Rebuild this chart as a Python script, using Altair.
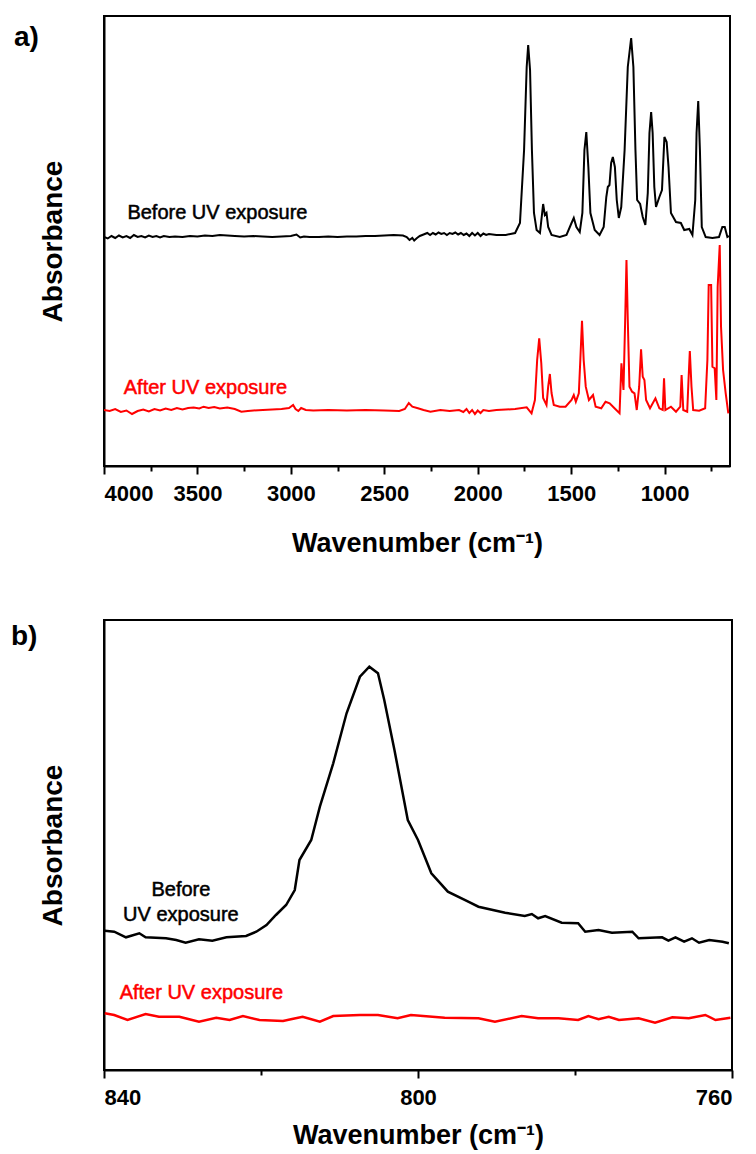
import altair as alt
import pandas as pd

FONT = "Liberation Sans"
BLACK = "#000000"
RED = "#ff0000"

# ---------------- Panel a: full spectrum ----------------
a_before_wn = [4000, 3980, 3960, 3940, 3920, 3900, 3880, 3860, 3840, 3820, 3800, 3780, 3760, 3740,
               3720, 3700, 3680, 3650, 3620, 3580, 3540, 3500, 3460, 3420, 3380, 3340, 3300, 3250,
               3200, 3150, 3100, 3050, 3000, 2970, 2950, 2930, 2900, 2850, 2800, 2750, 2700, 2650,
               2600, 2550, 2500, 2450, 2400, 2380, 2365, 2350, 2340, 2325, 2310, 2290, 2270, 2255,
               2240, 2225, 2210, 2195, 2180, 2165, 2150, 2135, 2120, 2105, 2090, 2075, 2060, 2045,
               2030, 2015, 2000, 1985, 1970, 1955, 1940, 1900, 1850, 1800, 1774, 1752, 1738, 1730,
               1720, 1710, 1699, 1685, 1667, 1650, 1641, 1632, 1623, 1605, 1561, 1525, 1498, 1486,
               1472, 1454, 1440, 1429, 1419, 1408, 1397, 1374, 1348, 1326, 1312, 1304, 1295, 1286,
               1277, 1266, 1256, 1245, 1232, 1214, 1197, 1179, 1167, 1156, 1147, 1131, 1117, 1103,
               1090, 1081, 1072, 1064, 1055, 1046, 1028, 1014, 1001, 989, 979, 966, 939, 913, 895,
               868, 851, 836, 829, 820, 811, 801, 780, 744, 709, 691, 678, 664, 655]
a_before_abs = [2.29, 2.275, 2.30, 2.28, 2.305, 2.285, 2.30, 2.28, 2.31, 2.29, 2.30, 2.285, 2.305, 2.29,
                2.30, 2.285, 2.30, 2.29, 2.295, 2.29, 2.30, 2.295, 2.305, 2.30, 2.31, 2.305, 2.30, 2.295,
                2.30, 2.295, 2.29, 2.295, 2.30, 2.315, 2.285, 2.295, 2.29, 2.29, 2.295, 2.29, 2.295, 2.295,
                2.30, 2.30, 2.305, 2.31, 2.305, 2.29, 2.26, 2.28, 2.255, 2.28, 2.30, 2.315, 2.33, 2.31,
                2.33, 2.315, 2.335, 2.32, 2.33, 2.31, 2.33, 2.32, 2.335, 2.315, 2.33, 2.31, 2.325, 2.30,
                2.33, 2.305, 2.33, 2.30, 2.325, 2.31, 2.32, 2.31, 2.31, 2.33, 2.43, 3.16, 3.99, 4.21,
                3.96, 3.16, 2.53, 2.36, 2.33, 2.62, 2.51, 2.53, 2.39, 2.31, 2.29, 2.31, 2.43, 2.48,
                2.39, 2.34, 2.53, 3.16, 3.34, 2.99, 2.53, 2.36, 2.31, 2.39, 2.69, 2.79, 2.81, 3.03,
                3.09, 2.99, 2.66, 2.48, 2.59, 3.16, 3.99, 4.28, 3.99, 3.16, 2.66, 2.62, 2.49, 2.41,
                2.73, 3.33, 3.54, 3.33, 2.79, 2.59, 2.69, 2.76, 3.29, 3.24, 2.99, 2.53, 2.44, 2.43, 2.36,
                2.37, 2.31, 2.66, 3.33, 3.65, 3.16, 2.39, 2.29, 2.28, 2.29, 2.39, 2.39, 2.29, 2.30]

a_after_wn = [4000, 3970, 3940, 3910, 3880, 3850, 3820, 3790, 3760, 3730, 3700, 3670, 3640, 3610,
              3580, 3550, 3520, 3490, 3467, 3440, 3410, 3380, 3340, 3300, 3265, 3230, 3200, 3150,
              3100, 3050, 3010, 2988, 2975, 2960, 2945, 2920, 2880, 2800, 2700, 2600, 2500, 2420,
              2390, 2369, 2350, 2320, 2290, 2253, 2200, 2150, 2100, 2077, 2060, 2045, 2030, 2015,
              2000, 1985, 1970, 1940, 1900, 1850, 1800, 1738, 1712, 1694, 1682, 1671, 1660, 1650,
              1632, 1623, 1614, 1605, 1593, 1561, 1530, 1498, 1486, 1475, 1459, 1451, 1442, 1433,
              1422, 1405, 1383, 1369, 1339, 1316, 1294, 1268, 1241, 1231, 1220, 1211, 1204, 1197,
              1188, 1174, 1161, 1149, 1136, 1126, 1117, 1108, 1099, 1078, 1049, 1028, 1010, 1003,
              996, 966, 939, 916, 909, 900, 879, 872, 865, 856, 847, 815, 783, 771, 764, 751, 744,
              732, 723, 716, 705, 698, 687, 673, 659]
a_after_abs = [0.56, 0.55, 0.57, 0.54, 0.555, 0.52, 0.55, 0.565, 0.545, 0.57, 0.555, 0.575, 0.56, 0.58,
               0.565, 0.58, 0.585, 0.575, 0.593, 0.58, 0.59, 0.575, 0.585, 0.57, 0.543, 0.55, 0.555, 0.56,
               0.565, 0.57, 0.58, 0.61, 0.57, 0.55, 0.58, 0.56, 0.555, 0.56, 0.555, 0.56, 0.555, 0.55,
               0.57, 0.63, 0.593, 0.577, 0.56, 0.543, 0.56, 0.55, 0.56, 0.54, 0.57, 0.53, 0.56, 0.52,
               0.555, 0.53, 0.56, 0.55, 0.56, 0.565, 0.57, 0.587, 0.527, 0.66, 1.06, 1.277, 1.03, 0.68,
               0.61, 0.793, 0.92, 0.73, 0.61, 0.593, 0.593, 0.66, 0.71, 0.643, 0.727, 1.06, 1.453, 1.06,
               0.793, 0.66, 0.71, 0.593, 0.577, 0.643, 0.627, 0.577, 0.527, 1.027, 0.76, 1.46, 2.06, 1.46,
               0.793, 0.743, 0.727, 0.56, 0.793, 1.167, 0.893, 0.86, 0.66, 0.577, 0.677, 0.577, 0.56, 0.877,
               0.56, 0.593, 0.543, 0.593, 0.91, 0.56, 0.543, 0.86, 1.15, 0.793, 0.56, 0.553, 0.577, 1.06, 1.81, 1.81, 0.993,
               0.977, 0.66, 1.793, 2.21, 1.393, 0.96, 0.727, 0.527]

a_major_ticks = [4000, 3500, 3000, 2500, 2000, 1500, 1000]
a_all_ticks = [4000, 3750, 3500, 3250, 3000, 2750, 2500, 2250, 2000, 1750, 1500, 1250, 1000, 750]

# ---------------- Panel b: zoom 840-760 ----------------
b_before_wn = [839.9, 838.7, 837.2, 835.5, 834.7, 832.1, 830.8, 829.6, 827.9, 826.2, 824.4, 821.9,
               820.6, 819.3, 818.1, 816.8, 815.7, 815.1, 813.6, 812.5, 810.8, 809.1, 807.4, 806.2,
               805.1, 804.3, 803.0, 801.3, 800.0, 798.3, 796.2, 793.6, 792.3, 788.9, 786.4, 785.5,
               784.7, 783.8, 781.7, 779.6, 778.7, 777.0, 775.3, 772.7, 771.9, 768.9, 768.1, 767.2,
               766.1, 765.1, 764.2, 762.9, 761.2, 760.4]
b_before_abs = [1.393, 1.383, 1.327, 1.367, 1.327, 1.317, 1.30, 1.273, 1.307, 1.293, 1.327, 1.34,
                1.383, 1.45, 1.55, 1.65, 1.80, 2.10, 2.30, 2.633, 3.067, 3.567, 3.933, 4.033,
                3.967, 3.70, 3.20, 2.50, 2.30, 1.967, 1.783, 1.683, 1.633, 1.573, 1.54, 1.56,
                1.517, 1.54, 1.473, 1.467, 1.383, 1.40, 1.373, 1.383, 1.317, 1.327, 1.293, 1.327,
                1.283, 1.317, 1.273, 1.30, 1.283, 1.267]

b_after_wn = [839.9, 838.7, 837.0, 834.7, 833.0, 830.4, 827.9, 825.7, 824.0, 822.3, 820.2, 817.2,
              814.7, 812.5, 810.8, 807.4, 805.1, 802.6, 800.9, 796.6, 792.3, 790.2, 786.8, 784.7,
              782.1, 779.6, 778.3, 777.0, 775.7, 774.4, 771.9, 769.8, 767.6, 765.5, 763.4, 762.1, 760.2]
b_after_abs = [0.567, 0.55, 0.50, 0.56, 0.533, 0.533, 0.483, 0.523, 0.50, 0.54, 0.50, 0.49,
               0.533, 0.483, 0.54, 0.55, 0.55, 0.517, 0.55, 0.523, 0.517, 0.483, 0.54, 0.517,
               0.517, 0.50, 0.54, 0.507, 0.533, 0.50, 0.517, 0.473, 0.527, 0.517, 0.55, 0.50, 0.523]

b_major_ticks = [840, 800, 760]
b_all_ticks = [840, 820, 800, 780, 760]

series_names = ["Before UV exposure", "After UV exposure"]
series_colors = [BLACK, RED]

# annotation labels (data coordinates)
a_label_text = ["Before UV exposure", "After UV exposure"]
a_label_wn = [3393, 3457]
a_label_abs = [2.53, 0.78]
b_label_text = ["Before\nUV exposure", "After UV exposure"]
b_label_wn = [830.2, 827.6]
b_label_abs = [1.80, 0.775]

color_scale = alt.Scale(domain=series_names, range=series_colors)


def spectra_df(bw, ba, aw, aa):
    d1 = pd.DataFrame({"wn": bw, "abs": ba, "series": series_names[0]})
    d2 = pd.DataFrame({"wn": aw, "abs": aa, "series": series_names[1]})
    return pd.concat([d1, d2], ignore_index=True)


def panel(df, lab_df, xdom, major, allticks, w, h, tag, tag_x, tag_y, line_w, x_title_pad):
    major_test = " || ".join(f"datum.value == {m}" for m in major)
    x = alt.X(
        "wn:Q",
        scale=alt.Scale(domain=xdom, reverse=True, nice=False, zero=False),
        axis=alt.Axis(
            title="Wavenumber (cm\u207b\u00b9)",
            values=allticks,
            labelExpr=f"({major_test}) ? datum.label : ''",
            tickSize={"condition": {"test": major_test, "value": 8}, "value": 5},
            labelPadding=9,
            titlePadding=x_title_pad,
            grid=False,
            format="d",
        ),
    )
    y = alt.Y(
        "abs:Q",
        scale=alt.Scale(domain=[0, 4.5], nice=False, zero=False),
        axis=alt.Axis(title="Absorbance", labels=False, ticks=False, grid=False,
                      titlePadding=37, titleFontSize=28),
    )
    lines = alt.Chart(df).mark_line(strokeWidth=line_w, clip=True).encode(
        x=x, y=y,
        color=alt.Color("series:N", scale=color_scale, legend=None),
        detail="series:N",
    )
    labels = alt.Chart(lab_df).mark_text(
        font=FONT, fontSize=20, align="center", baseline="middle", lineBreak="\n",
        lineHeight=25, strokeWidth=0.5
    ).encode(
        x="wn:Q", y="abs:Q", text="label:N",
        color=alt.Color("series:N", scale=color_scale, legend=None),
        stroke=alt.Stroke("series:N", scale=color_scale, legend=None),
    )
    tag_mark = alt.Chart(pd.DataFrame({"t": [tag]})).mark_text(
        font=FONT, fontSize=28, fontWeight="bold", align="left", baseline="middle", color=BLACK
    ).encode(text="t:N", x=alt.value(tag_x), y=alt.value(tag_y))
    return alt.layer(lines, labels, tag_mark).properties(width=w, height=h)


df_a = spectra_df(a_before_wn, a_before_abs, a_after_wn, a_after_abs)
df_b = spectra_df(b_before_wn, b_before_abs, b_after_wn, b_after_abs)
lab_a = pd.DataFrame({"wn": a_label_wn, "abs": a_label_abs, "label": a_label_text, "series": series_names})
lab_b = pd.DataFrame({"wn": b_label_wn, "abs": b_label_abs, "label": b_label_text, "series": series_names})

pa = panel(df_a, lab_a, [650, 4000], a_major_ticks, a_all_ticks, 626, 450, "a)", -90, 22, 2, 26)
pb = panel(df_b, lab_b, [760, 840], b_major_ticks, b_all_ticks, 628, 450, "b)", -93, 17, 2.5, 14)

chart = alt.vconcat(pa, pb, spacing=62).properties(
    padding={"left": 2, "top": 7, "right": 5, "bottom": 5},
    background="white",
).configure_view(
    stroke=BLACK, strokeWidth=2
).configure_axis(
    domainColor=BLACK, domainWidth=2, tickColor=BLACK, tickWidth=2,
    labelFont=FONT, labelFontSize=22, labelFontWeight="bold", labelColor=BLACK,
    titleFont=FONT, titleFontSize=27, titleFontWeight="bold", titleColor=BLACK,
)

chart.save("out.html", embed_options={"renderer": "svg", "actions": False})
